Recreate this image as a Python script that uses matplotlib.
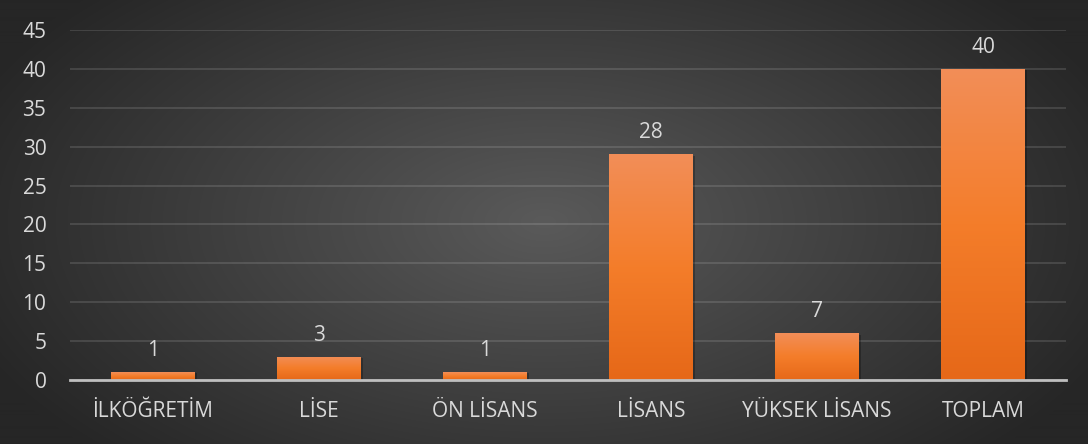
import numpy as np
import matplotlib
matplotlib.use("Agg")
import matplotlib.pyplot as plt
from matplotlib.patches import Rectangle

# Veri
kategoriler = ["İLKÖĞRETİM", "LİSE", "ÖN LİSANS", "LİSANS", "YÜKSEK LİSANS", "TOPLAM"]
bar_degerleri = [1, 3, 1, 29, 6, 40]      # çubuk yükseklikleri
etiketler = ["1", "3", "1", "28", "7", "40"]  # çubukların üstündeki yazılar
y_ticks = [0, 5, 10, 15, 20, 25, 30, 35, 40, 45]

plt.rcParams['font.family'] = ['Open Sans', 'DejaVu Sans']
yazi_rengi = "#D9D9D9"

fig = plt.figure(figsize=(10.88, 4.44), dpi=100)

# Arka plan: radyal gradyan
bg = fig.add_axes([0, 0, 1, 1], zorder=0)
yy, xx = np.mgrid[0:444, 0:1088]
r = np.sqrt(((xx - 544) / 620.0) ** 2 + ((yy - 222) / 330.0) ** 2)
r = np.clip(r, 0, 1)
c_ic = np.array([0x5a, 0x5a, 0x5a]) / 255
c_dis = np.array([0x26, 0x26, 0x26]) / 255
img = c_ic[None, None, :] * (1 - r[..., None]) + c_dis[None, None, :] * r[..., None]
bg.imshow(img, aspect="auto", extent=[0, 1, 0, 1])
bg.axis("off")

ax = fig.add_axes([70 / 1088, 64 / 444, 996 / 1088, 350 / 444], zorder=1)
ax.patch.set_alpha(0)

x = np.arange(len(kategoriler))
genislik = 0.506

# Gradyanlı çubuklar
grad = np.linspace(0, 1, 256)[:, None]
ust = np.array([0xF2, 0x8E, 0x58]) / 255
orta = np.array([0xF4, 0x7D, 0x2A]) / 255
alt = np.array([0xE6, 0x68, 0x18]) / 255
g = grad[..., None]
renk = np.where(g < 0.5,
                ust[None, None, :] * (1 - 2 * g) + orta[None, None, :] * (2 * g),
                orta[None, None, :] * (2 - 2 * g) + alt[None, None, :] * (2 * g - 1))
for xi, h, lab in zip(x, bar_degerleri, etiketler):
    # hafif gölge
    golge = Rectangle((xi - genislik / 2 + 0.012, 0), genislik, h - 0.15,
                      facecolor="black", alpha=0.25, edgecolor="none", zorder=2)
    ax.add_patch(golge)
    rect = Rectangle((xi - genislik / 2, 0), genislik, h, facecolor="none",
                     edgecolor="none", zorder=3)
    ax.add_patch(rect)
    im = ax.imshow(renk, aspect="auto", extent=[xi - genislik / 2, xi + genislik / 2, 0, h],
                   zorder=3)
    im.set_clip_path(rect)
    ax.annotate(lab, (xi, h), xytext=(0, 8), textcoords="offset points",
                ha="center", va="bottom", color=yazi_rengi, fontsize=15)

ax.set_aspect("auto")
ax.set_xlim(-0.5, len(kategoriler) - 0.5)
ax.set_ylim(0, 45)

ax.set_yticks(y_ticks)
ax.set_xticks(x)
ax.set_xticklabels(kategoriler)
ax.tick_params(axis="both", length=0, colors=yazi_rengi, labelsize=15)
ax.tick_params(axis="y", pad=17)
ax.tick_params(axis="x", pad=15)
ax.yaxis.grid(True, color="#ffffff", alpha=0.12, linewidth=1.5)
ax.set_axisbelow(True)
for s in ["top", "right", "left"]:
    ax.spines[s].set_visible(False)
ax.spines["bottom"].set_color("#BFBFBF")
ax.spines["bottom"].set_linewidth(2)
ax.spines["bottom"].set_zorder(4)

fig.savefig("out.png", dpi=100)
